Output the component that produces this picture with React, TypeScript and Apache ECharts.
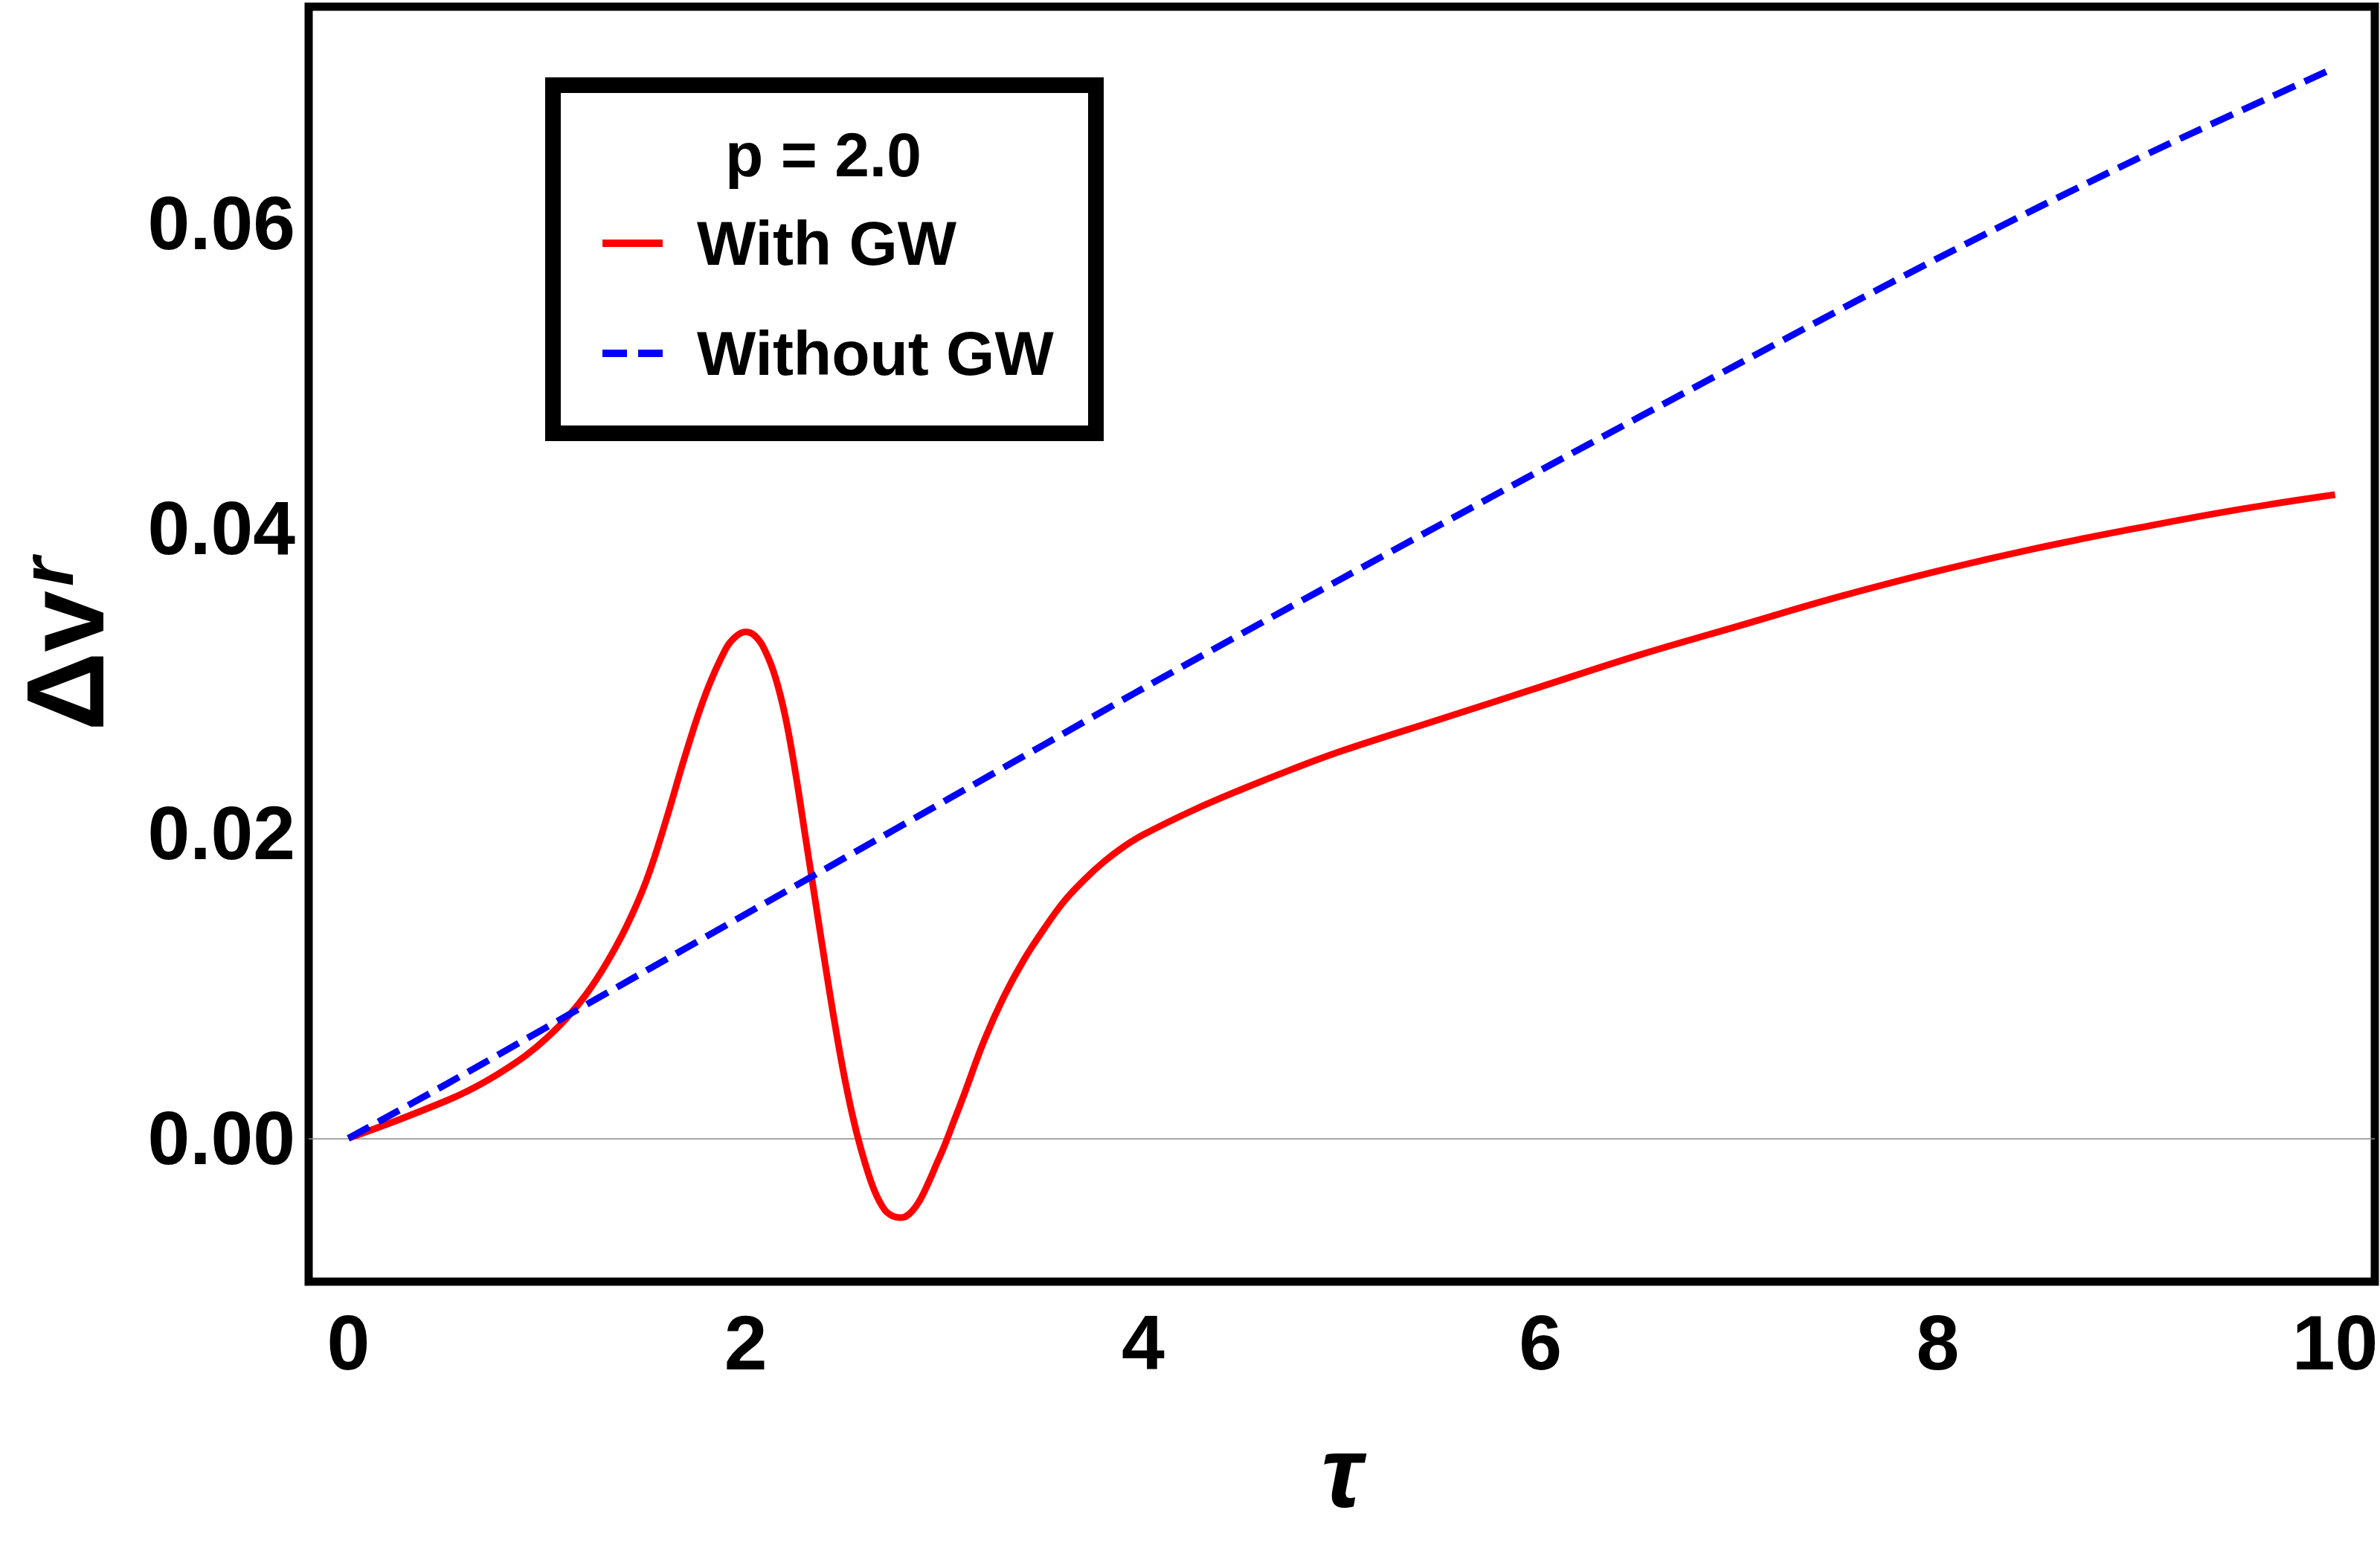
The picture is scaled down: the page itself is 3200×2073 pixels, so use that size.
import React, { useEffect, useRef } from "react";
import * as echarts from "echarts";

// τ values and Δv^r for the curve "With GW" (p = 2.0)
const tauWith = [
  0, 0.25, 0.5, 0.6, 0.7, 0.8, 0.9, 1.0, 1.1, 1.2, 1.3, 1.4, 1.5, 1.6, 1.7, 1.8,
  1.9, 1.95, 2.0, 2.05, 2.1, 2.15, 2.2, 2.25, 2.3, 2.35, 2.4, 2.45, 2.5, 2.55,
  2.6, 2.65, 2.7, 2.74, 2.78, 2.82, 2.87, 2.92, 2.96, 3.0, 3.05, 3.1, 3.2, 3.3,
  3.4, 3.5, 3.6, 3.7, 3.8, 3.9, 4.0, 4.25, 4.5, 4.75, 5.0, 5.5, 6.0, 6.5, 7.0,
  7.5, 8.0, 8.5, 9.0, 9.5, 10.0,
];
const withGW = [
  0, 0.0012, 0.0025, 0.0031, 0.0038, 0.0046, 0.0055, 0.0066, 0.0079, 0.0095,
  0.0115, 0.0139, 0.0169, 0.0209, 0.0253, 0.0292, 0.0321, 0.0329, 0.0332, 0.0329,
  0.0319, 0.0302, 0.0276, 0.024, 0.0198, 0.0156, 0.0114, 0.0074, 0.0038, 0.0008,
  -0.0016, -0.0035, -0.0047, -0.0051, -0.0052, -0.005, -0.0042, -0.0029,
  -0.0017, -0.0005, 0.0012, 0.0029, 0.0064, 0.0093, 0.0117, 0.0137, 0.0155,
  0.0169, 0.0181, 0.0191, 0.0199, 0.0215, 0.0229, 0.0242, 0.0254, 0.0275, 0.0296,
  0.0317, 0.0336, 0.0355, 0.0372, 0.0387, 0.04, 0.0412, 0.0422,
];

// τ values and Δv^r for the curve "Without GW"
const tauWithout = [0, 0.5, 1, 1.5, 2, 2.5, 3, 3.5, 4, 5, 6, 7, 8, 9, 10];
const withoutGW = [
  0, 0.0036, 0.0073, 0.011, 0.0147, 0.0184, 0.0221, 0.0258, 0.0295, 0.0367,
  0.0438, 0.0508, 0.0577, 0.0642, 0.0702,
];

const xTicks = [0, 2, 4, 6, 8, 10];
const yTicks = [0, 0.02, 0.04, 0.06];
const seriesNames = ["With GW", "Without GW"];
const legendTitle = "p = 2.0";

const FONT = '"Liberation Sans", Arial, Helvetica, sans-serif';

export default function App() {
  const ref = useRef<HTMLDivElement>(null);

  useEffect(() => {
    const chart = echarts.init(ref.current!, null, { renderer: "svg" });
    const redData = tauWith.map((t, i) => [t, withGW[i]]);
    const blueData = tauWithout.map((t, i) => [t, withoutGW[i]]);

    chart.setOption({
      animation: false,
      backgroundColor: "#ffffff",
      grid: {
        left: 415,
        right: 7,
        top: 9,
        bottom: 350,
        show: true,
        borderColor: "#000",
        borderWidth: 11,
        backgroundColor: "transparent",
        containLabel: false,
        outerBoundsMode: "none",
      },
      xAxis: {
        type: "value",
        min: -0.2,
        max: 10.2,
        axisLine: { show: false },
        axisTick: { show: false },
        splitLine: { show: false },
        axisLabel: {
          customValues: xTicks,
          formatter: (v: number) => String(Math.round(v)),
          fontSize: 104,
          fontWeight: "bold",
          fontFamily: FONT,
          color: "#000",
          margin: 30,
        },
        name: "τ",
        nameLocation: "middle",
        nameGap: 189,
        nameTextStyle: {
          fontSize: 135,
          fontWeight: "bold",
          fontStyle: "italic",
          fontFamily: FONT,
          color: "#000",
        },
      },
      yAxis: {
        type: "value",
        min: -0.0094,
        max: 0.0742,
        axisLine: { show: false },
        axisTick: { show: false },
        splitLine: { show: false },
        axisLabel: {
          customValues: yTicks,
          formatter: (v: number) => v.toFixed(2),
          fontSize: 102,
          fontWeight: "bold",
          fontFamily: FONT,
          color: "#000",
          margin: 18,
        },
        name: "{d|Δv}{r|r}",
        nameLocation: "middle",
        nameRotate: 90,
        nameGap: 254,
        nameTextStyle: {
          color: "#000",
          rich: {
            d: {
              fontSize: 148,
              fontWeight: "bold",
              fontFamily: FONT,
              color: "#000",
              lineHeight: 148,
              verticalAlign: "bottom",
            },
            r: {
              fontSize: 100,
              fontWeight: "bold",
              fontStyle: "italic",
              fontFamily: FONT,
              color: "#000",
              lineHeight: 44,
              verticalAlign: "top",
              padding: [0, 0, 0, 6],
            },
          },
        },
      },
      legend: {
        orient: "vertical",
        left: 805,
        top: 280,
        itemWidth: 81,
        itemHeight: 10,
        itemGap: 64,
        data: [
          { name: seriesNames[0], icon: "path://M0,0H81V10H0Z" },
          { name: seriesNames[1], icon: "path://M0,0H33V10H0ZM48,0H81V10H48Z" },
        ],
        selectedMode: false,
        itemStyle: { borderWidth: 0 },
        lineStyle: { width: 0 },
        textStyle: {
          fontSize: 84,
          fontWeight: "bold",
          fontFamily: FONT,
          color: "#000",
          lineHeight: 84,
          padding: [0, 0, 0, 41],
        },
      },
      graphic: [
        {
          type: "rect",
          z: 1,
          shape: { x: 743.5, y: 114.5, width: 730, height: 468 },
          style: { fill: "#fff", stroke: "#000", lineWidth: 21 },
        },
        {
          type: "text",
          z: 2,
          x: 1107,
          y: 208,
          style: {
            text: legendTitle,
            fontSize: 84,
            fontWeight: "bold",
            fontFamily: FONT,
            fill: "#000",
            align: "center",
            verticalAlign: "middle",
          },
        },
      ],
      series: [
        {
          name: seriesNames[0],
          type: "line",
          data: redData,
          showSymbol: false,
          symbol: "none",
          smooth: 0.4,
          lineStyle: { color: "#ff0000", width: 9 },
          itemStyle: { color: "#ff0000" },
          z: 3,
          markLine: {
            silent: true,
            symbol: "none",
            label: { show: false },
            lineStyle: { color: "#888", width: 1.5, type: "solid" },
            data: [{ yAxis: 0 }],
            z: 2,
          },
        },
        {
          name: seriesNames[1],
          type: "line",
          data: blueData,
          showSymbol: false,
          symbol: "none",
          smooth: 0.3,
          lineStyle: { color: "#0000ff", width: 9, type: [32, 14] },
          itemStyle: { color: "#0000ff" },
          z: 4,
        },
      ],
    });

    return () => chart.dispose();
  }, []);

  return (
    <div
      ref={ref}
      style={{
        position: "absolute",
        left: 0,
        top: 0,
        width: 3200,
        height: 2073,
        background: "#fff",
      }}
    />
  );
}
